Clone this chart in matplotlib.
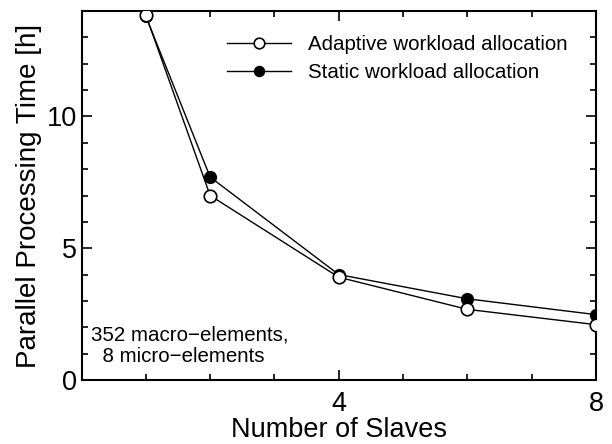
import matplotlib
matplotlib.use("Agg")
import matplotlib.pyplot as plt
from matplotlib.ticker import MultipleLocator

plt.rcParams['font.family'] = ['Liberation Sans', 'DejaVu Sans']

slaves = [1, 2, 4, 6, 8]
adaptive = [13.85, 7.0, 3.9, 2.68, 2.1]
static = [13.8, 7.7, 4.0, 3.08, 2.48]

fig = plt.figure(figsize=(6.12, 4.44), dpi=100)
ax = fig.add_axes([81.5/612, 64/444, (596-81.5)/612, (380-11)/444])

ax.plot(slaves, static, '-o', color='black', lw=1.0, markersize=8.5,
        markerfacecolor='black', markeredgecolor='black', label='Static workload allocation', zorder=3)
ax.plot(slaves, adaptive, '-o', color='black', lw=1.0, markersize=9,
        markerfacecolor='white', markeredgecolor='black', markeredgewidth=1.2,
        label='Adaptive workload allocation', zorder=4)

ax.set_xlim(0, 8)
ax.set_ylim(0, 14)
ax.xaxis.set_major_locator(MultipleLocator(4))
ax.xaxis.set_minor_locator(MultipleLocator(1))
ax.yaxis.set_major_locator(MultipleLocator(5))
ax.yaxis.set_minor_locator(MultipleLocator(1))
ax.set_xticks([4, 8])
ax.tick_params(which='both', direction='in', top=True, right=True, labelsize=19.5, width=1.2)
ax.tick_params(which='major', length=7)
ax.tick_params(which='minor', length=4)
ax.tick_params(axis='x', which='major', pad=8)
ax.tick_params(axis='y', which='major', pad=3)
for s in ax.spines.values():
    s.set_linewidth(1.5)

ax.set_xlabel('Number of Slaves', fontsize=19.5, labelpad=0)
ax.set_ylabel('Parallel Processing Time [h]', fontsize=20, labelpad=4)

handles, labels = ax.get_legend_handles_labels()
ax.legend(handles[::-1], labels[::-1], loc='upper right', frameon=False, fontsize=14.8,
          handlelength=3.1, markerscale=0.85, bbox_to_anchor=(0.98, 0.985), labelspacing=0.45,
          handletextpad=0.8)

ax.text(0.14, 1.3, '352 macro\u2212elements,\n  8 micro\u2212elements', fontsize=14.8,
        ha='left', va='center', linespacing=1.15)

fig.savefig('out.png', dpi=100)
